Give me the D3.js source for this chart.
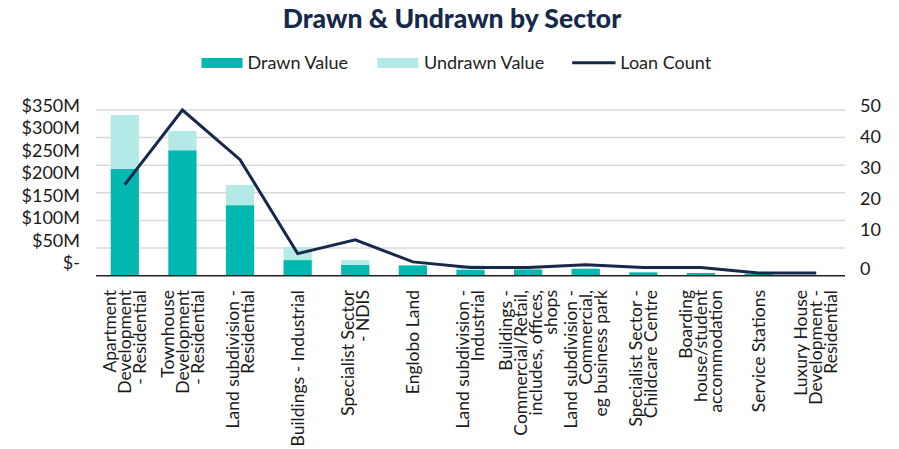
<!DOCTYPE html>
<html><head><meta charset="utf-8">
<script src="https://cdn.jsdelivr.net/npm/d3@7"></script>
<style>body{margin:0;background:#fff;} svg{display:block;font-family:Lato,"Noto Sans",sans-serif;}</style>
</head><body><svg id="c" width="899" height="449"></svg>
<script>
const categories = [
  "Apartment Development - Residential",
  "Townhouse Development - Residential",
  "Land subdivision - Residential",
  "Buildings - Industrial",
  "Specialist Sector - NDIS",
  "Englobo Land",
  "Land subdivision - Industrial",
  "Buildings - Commercial/Retail, includes, offices, shops",
  "Land subdivision - Commercial, eg business park",
  "Specialist Sector - Childcare Centre",
  "Boarding house/student accommodation",
  "Service Stations",
  "Luxury House Development - Residential"
];
const categoryLines = [
  ["Apartment","Development","- Residential"],
  ["Townhouse","Development","- Residential"],
  ["Land subdivision -","Residential"],
  ["Buildings - Industrial"],
  ["Specialist Sector","- NDIS"],
  ["Englobo Land"],
  ["Land subdivision -","Industrial"],
  ["Buildings -","Commercial/Retail,","includes, offices,","shops"],
  ["Land subdivision -","Commercial,","eg business park"],
  ["Specialist Sector -","Childcare Centre"],
  ["Boarding","house/student","accommodation"],
  ["Service Stations"],
  ["Luxury House","Development -","Residential"]
];
// $M
const drawnValue   = [226, 265, 149, 33, 22.6, 22, 12, 13.5, 14.8, 7.2, 5.7, 4.2, 0.5];
const undrawnValue = [113.5, 40.7, 42.6, 27, 10.4, 0.6, 10, 1, 0.5, 0.3, 0.3, 0.2, 0.2];
const loanCount    = [33, 60, 42, 8, 13, 5, 3, 3, 4, 3, 3, 1, 1];
const leftTickLabels  = ["$-","$50M","$100M","$150M","$200M","$250M","$300M","$350M"];
const leftTickValues  = [0,50,100,150,200,250,300,350];
const rightTickValues = [0,10,20,30,40,50];
const legendItems = ["Drawn Value","Undrawn Value","Loan Count"];

const C_DRAWN = "#00b8b0", C_UNDRAWN = "#b3e9e7", C_LINE = "#17294a";
const svg = d3.select("#c");

const x = d3.scaleBand().domain(categories).range([96, 845]).paddingInner(0.51).paddingOuter(0.255);
const yL = d3.scaleLinear().domain([0, 350]).range([275.7, 110]);
const yR = d3.scaleLinear().domain([0, 60]).range([275.7, 110]);
// label placement scales (labels in the reference sit off the gridlines)
const yLlab = d3.scaleLinear().domain([0, 350]).range([262.7, 105.7]);
const yRlab = d3.scaleLinear().domain([0, 10, 50]).range([268.3, 230, 106]);

// title
svg.append("text").attr("x", 452).attr("y", 28).attr("text-anchor","middle")
  .attr("font-size", 26.5).attr("font-weight", 900).attr("fill", C_LINE)
  .text("Drawn & Undrawn by Sector");

// legend
const lg = svg.append("g").attr("font-size", 18).attr("fill", "#222");
lg.append("rect").attr("x",201.5).attr("y",58).attr("width",41).attr("height",10).attr("fill",C_DRAWN);
lg.append("text").attr("x",247.5).attr("y",62.8).attr("dy","0.35em").text(legendItems[0]);
lg.append("rect").attr("x",377.3).attr("y",58).attr("width",41).attr("height",10).attr("fill",C_UNDRAWN);
lg.append("text").attr("x",424).attr("y",62.8).attr("dy","0.35em").text(legendItems[1]);
lg.append("line").attr("x1",572.2).attr("x2",615.5).attr("y1",62.8).attr("y2",62.8).attr("stroke",C_LINE).attr("stroke-width",3);
lg.append("text").attr("x",620.3).attr("y",62.8).attr("dy","0.35em").text(legendItems[2]);

// gridlines
svg.append("g").selectAll("line").data(yR.ticks(6).filter(d => d > 0)).join("line")
  .attr("x1", x.range()[0]).attr("x2", x.range()[1])
  .attr("y1", d => yR(d)).attr("y2", d => yR(d))
  .attr("stroke", "#d9d9d9").attr("stroke-width", 1.5);

// bars
const bars = svg.append("g");
bars.selectAll("rect.d").data(categories).join("rect").attr("class","d")
  .attr("x", d => x(d)).attr("width", x.bandwidth())
  .attr("y", (d,i) => yL(drawnValue[i])).attr("height", (d,i) => yL(0) - yL(drawnValue[i]))
  .attr("fill", C_DRAWN);
bars.selectAll("rect.u").data(categories).join("rect").attr("class","u")
  .attr("x", d => x(d)).attr("width", x.bandwidth())
  .attr("y", (d,i) => yL(drawnValue[i] + undrawnValue[i])).attr("height", (d,i) => yL(drawnValue[i]) - yL(drawnValue[i] + undrawnValue[i]))
  .attr("fill", C_UNDRAWN);

// axis line
svg.append("line").attr("x1", x.range()[0]).attr("x2", x.range()[1])
  .attr("y1", yL(0)).attr("y2", yL(0)).attr("stroke", "#222").attr("stroke-width", 1.5);

// line
const line = d3.line().x((d,i) => x(categories[i]) + x.bandwidth()/2).y(d => yR(d));
svg.append("path").datum(loanCount).attr("d", line).attr("fill","none")
  .attr("stroke", C_LINE).attr("stroke-width", 3).attr("stroke-linejoin","miter");

// left labels
const la = d3.axisLeft(yLlab).tickValues(leftTickValues).tickFormat((d,i) => leftTickLabels[i]).tickSize(0).tickPadding(0);
const gl = svg.append("g").attr("transform","translate(80,0)").call(la);
gl.select(".domain").remove();
gl.selectAll("text").attr("font-size", 18).attr("font-family", "Lato").attr("fill", "#1a1a1a");

// right labels
const ra = d3.axisRight(yRlab).tickValues(rightTickValues).tickSize(0).tickPadding(0);
const gr = svg.append("g").attr("transform","translate(860,0)").call(ra);
gr.select(".domain").remove();
gr.selectAll("text").attr("font-size", 18).attr("font-family", "Lato").attr("fill", "#1a1a1a");

// x labels
const xl = svg.append("g").attr("font-size", 17.5).attr("fill", "#1a1a1a");
categories.forEach((c, i) => {
  const lines = categoryLines[i];
  const cx = x(c) + x.bandwidth()/2;
  const lh = 15;
  const g = xl.append("g").attr("transform", `translate(${cx},290) rotate(-90)`);
  lines.forEach((t, j) => {
    const off = (j - (lines.length - 1)/2) * lh;
    g.append("text").attr("x", 0).attr("y", off).attr("dy", "0.35em").attr("text-anchor", "end").text(t);
  });
});
</script></body></html>
